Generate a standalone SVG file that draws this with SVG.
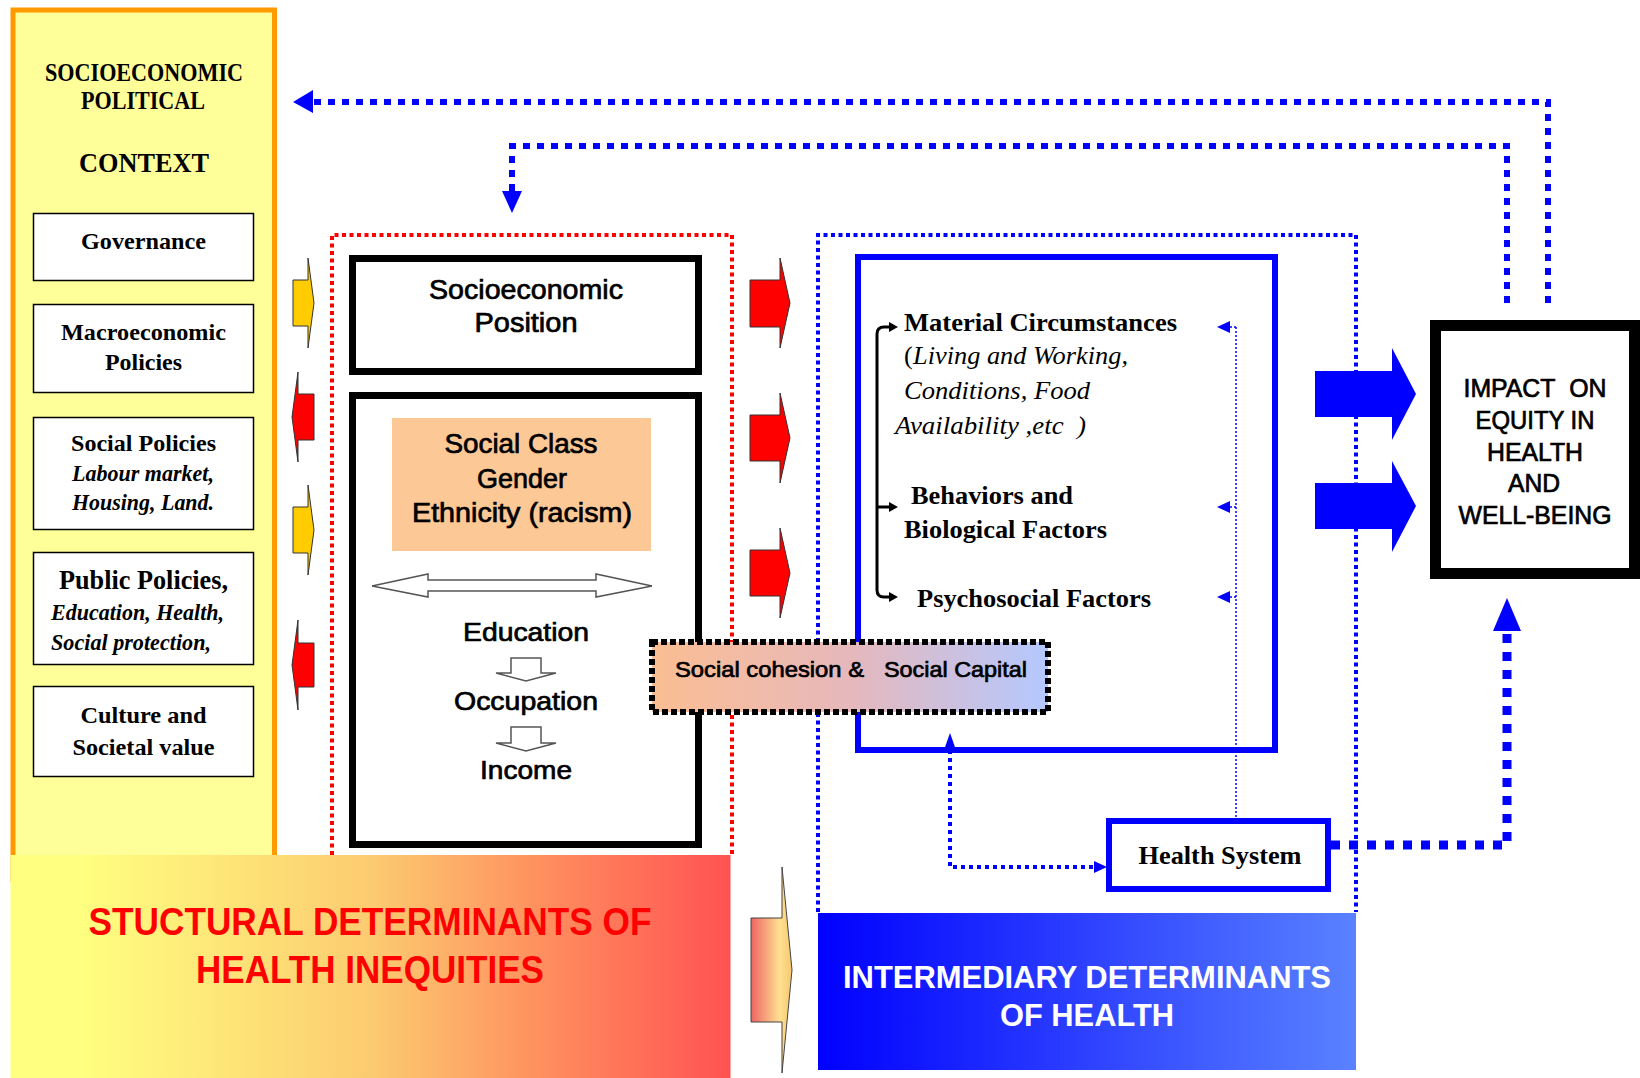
<svg xmlns="http://www.w3.org/2000/svg" width="1640" height="1078" viewBox="0 0 1640 1078">
<defs>
<linearGradient id="gStruct" x1="0" x2="1" y1="0" y2="0">
<stop offset="0" stop-color="#FFFF80"/>
<stop offset="0.1" stop-color="#FFFF80"/>
<stop offset="0.5" stop-color="#FCCB70"/>
<stop offset="0.75" stop-color="#FF8C5E"/>
<stop offset="1" stop-color="#FF5252"/>
</linearGradient>
<linearGradient id="gInter" x1="0" x2="1" y1="0" y2="0">
<stop offset="0" stop-color="#0000FF"/>
<stop offset="1" stop-color="#5A82FF"/>
</linearGradient>
<linearGradient id="gCoh" x1="0" x2="1" y1="0" y2="0">
<stop offset="0" stop-color="#FBBE92"/>
<stop offset="0.5" stop-color="#E6B8BC"/>
<stop offset="1" stop-color="#B4C8FF"/>
</linearGradient>
<linearGradient id="gArr" gradientUnits="userSpaceOnUse" x1="751" y1="0" x2="792" y2="0">
<stop offset="0" stop-color="#EE6464"/>
<stop offset="0.7" stop-color="#FFE090"/>
<stop offset="1" stop-color="#F5C870"/>
</linearGradient>
</defs>
<style>
.serif{font-family:'Liberation Serif','Times New Roman',serif}
.sans{font-family:'Liberation Sans',Arial,sans-serif}
.b{font-weight:bold}
.i{font-style:italic}
.c{text-anchor:middle}
.med{stroke:#000;stroke-width:0.7}
.box{fill:#fff;stroke:#000;stroke-width:1.5}
.thick{fill:#fff;stroke:#000;stroke-width:7}
.yel{fill:#FFCC00;stroke:#333;stroke-width:1}
.red{fill:#FF0000;stroke:#333;stroke-width:1}
.blu{fill:#0000FF}
.fb{fill:none;stroke:#0000FF;stroke-width:6;stroke-dasharray:7 7}
.hd{fill:#0000FF}
.wa{fill:#fff;stroke:#555;stroke-width:1.5}
</style>

<g id="context">
<rect x="13" y="10" width="261.5" height="870" fill="#FFFF99" stroke="#FF9900" stroke-width="5"/>
<text class="serif b c" x="144" y="81" font-size="26" textLength="198" lengthAdjust="spacingAndGlyphs">SOCIOECONOMIC</text>
<text class="serif b c" x="143" y="109" font-size="26" textLength="124" lengthAdjust="spacingAndGlyphs">POLITICAL</text>
<text class="serif b c" x="144" y="172" font-size="28" textLength="130" lengthAdjust="spacingAndGlyphs">CONTEXT</text>
</g>
<g id="governance">
<rect class="box" x="33.5" y="213.5" width="220" height="67"/>
<text class="serif b c" x="143.5" y="249" font-size="24" textLength="125" lengthAdjust="spacingAndGlyphs">Governance</text>
</g>
<g id="macro">
<rect class="box" x="33.5" y="304.5" width="220" height="88"/>
<text class="serif b c" x="143.5" y="340" font-size="24" textLength="165" lengthAdjust="spacingAndGlyphs">Macroeconomic</text>
<text class="serif b c" x="143.5" y="370" font-size="24" textLength="77" lengthAdjust="spacingAndGlyphs">Policies</text>
</g>
<g id="social-policies">
<rect class="box" x="33.5" y="417.5" width="220" height="112"/>
<text class="serif b c" x="143.5" y="451" font-size="24" textLength="145" lengthAdjust="spacingAndGlyphs">Social Policies</text>
<text class="serif b i c" x="143" y="481" font-size="24" textLength="142" lengthAdjust="spacingAndGlyphs">Labour market,</text>
<text class="serif b i c" x="143" y="510" font-size="24" textLength="142" lengthAdjust="spacingAndGlyphs">Housing, Land.</text>
</g>
<g id="public-policies">
<rect class="box" x="33.5" y="552.5" width="220" height="112"/>
<text class="serif b c" x="143.5" y="589" font-size="27" textLength="169" lengthAdjust="spacingAndGlyphs">Public Policies,</text>
<text class="serif b i" x="51" y="620" font-size="24" textLength="173" lengthAdjust="spacingAndGlyphs">Education, Health,</text>
<text class="serif b i" x="51" y="650" font-size="24" textLength="160" lengthAdjust="spacingAndGlyphs">Social protection,</text>
</g>
<g id="culture">
<rect class="box" x="33.5" y="686.5" width="220" height="90"/>
<text class="serif b c" x="143.5" y="723" font-size="24" textLength="126" lengthAdjust="spacingAndGlyphs">Culture and</text>
<text class="serif b c" x="143.5" y="755" font-size="24" textLength="142" lengthAdjust="spacingAndGlyphs">Societal value</text>
</g>

<g id="structural-frame">
<path d="M332,855 V235 H732 V855" fill="none" stroke="#FF0000" stroke-width="4" stroke-dasharray="4 3.5"/>
</g>
<g id="intermediary-frame">
<path d="M818,912 V235 H1356 V912" fill="none" stroke="#0000FF" stroke-width="4" stroke-dasharray="4 3.5"/>
</g>

<g id="structural-label">
<rect x="10.5" y="855" width="720" height="223" fill="url(#gStruct)"/>
<text class="sans b c" x="370" y="935" font-size="39" fill="#FF0000" textLength="563" lengthAdjust="spacingAndGlyphs">STUCTURAL DETERMINANTS OF</text>
<text class="sans b c" x="370" y="983" font-size="39" fill="#FF0000" textLength="348" lengthAdjust="spacingAndGlyphs">HEALTH INEQUITIES</text>
</g>
<g id="intermediary-label">
<rect x="818" y="913" width="538" height="157" fill="url(#gInter)"/>
<text class="sans b c" x="1087" y="988" font-size="32" fill="#fff" textLength="488" lengthAdjust="spacingAndGlyphs">INTERMEDIARY DETERMINANTS</text>
<text class="sans b c" x="1087" y="1026" font-size="32" fill="#fff" textLength="174" lengthAdjust="spacingAndGlyphs">OF HEALTH</text>
</g>

<g id="sep">
<rect class="thick" x="352.5" y="258.5" width="346" height="113"/>
<text class="sans c med" x="526" y="299" font-size="27" textLength="194" lengthAdjust="spacingAndGlyphs">Socioeconomic</text>
<text class="sans c med" x="526" y="332" font-size="27" textLength="103" lengthAdjust="spacingAndGlyphs">Position</text>
</g>
<g id="stratifiers">
<rect class="thick" x="352.5" y="395.5" width="346" height="449"/>
<rect x="392" y="418" width="259" height="133" fill="#FBC896"/>
<text class="sans c med" x="521" y="453" font-size="27" textLength="153" lengthAdjust="spacingAndGlyphs">Social Class</text>
<text class="sans c med" x="522" y="488" font-size="27" textLength="90" lengthAdjust="spacingAndGlyphs">Gender</text>
<text class="sans c med" x="522" y="522" font-size="27" textLength="220" lengthAdjust="spacingAndGlyphs">Ethnicity (racism)</text>
<polygon class="wa" points="372,586 428,574 428,580 596,580 596,574 652,586 596,597 596,591 428,591 428,597"/>
<text class="sans c med" x="526" y="641" font-size="26" textLength="126" lengthAdjust="spacingAndGlyphs">Education</text>
<polygon class="wa" points="511,658 541,658 541,673 556,673 526,681 496,673 511,673"/>
<text class="sans c med" x="526" y="710" font-size="26" textLength="144" lengthAdjust="spacingAndGlyphs">Occupation</text>
<polygon class="wa" points="511,727 541,727 541,743 556,743 526,751 496,743 511,743"/>
<text class="sans c med" x="526" y="779" font-size="26" textLength="92" lengthAdjust="spacingAndGlyphs">Income</text>
</g>

<g id="intermediary">
<rect x="858" y="257" width="417" height="493" fill="#fff" stroke="#0000FF" stroke-width="6"/>
<text class="serif b" x="904" y="331" font-size="26" textLength="273" lengthAdjust="spacingAndGlyphs">Material Circumstances</text>
<text class="serif" x="904" y="364" font-size="26">(</text>
<text class="serif i" x="913" y="364" font-size="26" textLength="215" lengthAdjust="spacingAndGlyphs">Living and Working,</text>
<text class="serif i" x="904" y="399" font-size="26" textLength="186" lengthAdjust="spacingAndGlyphs">Conditions, Food</text>
<text class="serif i" x="895" y="434" font-size="26" textLength="191" lengthAdjust="spacingAndGlyphs">Availability ,etc&#160;&#160;)</text>
<text class="serif b" x="911" y="504" font-size="26" textLength="162" lengthAdjust="spacingAndGlyphs">Behaviors and</text>
<text class="serif b" x="904" y="538" font-size="26" textLength="203" lengthAdjust="spacingAndGlyphs">Biological Factors</text>
<text class="serif b" x="917" y="607" font-size="26" textLength="234" lengthAdjust="spacingAndGlyphs">Psychosocial Factors</text>
</g>

<g id="health-system">
<rect x="1109" y="821" width="219" height="68" fill="#fff" stroke="#0000FF" stroke-width="6"/>
<text class="serif b c" x="1220" y="864" font-size="26" textLength="163" lengthAdjust="spacingAndGlyphs">Health System</text>
</g>

<g id="cohesion">
<rect x="652" y="642" width="396" height="70" fill="url(#gCoh)" stroke="#000" stroke-width="6" stroke-dasharray="6 3"/>
<text class="sans med" x="675" y="677" font-size="22" textLength="189" lengthAdjust="spacingAndGlyphs">Social cohesion &amp;</text>
<text class="sans med" x="884" y="677" font-size="22" textLength="143" lengthAdjust="spacingAndGlyphs">Social Capital</text>
</g>

<g id="impact">
<rect x="1435.5" y="325.5" width="199" height="248" fill="#fff" stroke="#000" stroke-width="11"/>
<text class="sans c med" x="1535" y="397" font-size="25" textLength="143" lengthAdjust="spacingAndGlyphs">IMPACT&#160;&#160;ON</text>
<text class="sans c med" x="1535" y="429" font-size="25" textLength="119" lengthAdjust="spacingAndGlyphs">EQUITY IN</text>
<text class="sans c med" x="1535" y="461" font-size="25" textLength="96" lengthAdjust="spacingAndGlyphs">HEALTH</text>
<text class="sans c med" x="1534" y="492" font-size="25" textLength="52" lengthAdjust="spacingAndGlyphs">AND</text>
<text class="sans c med" x="1535" y="524" font-size="25" textLength="153" lengthAdjust="spacingAndGlyphs">WELL-BEING</text>
</g>

<g id="connectors">
<path class="fb" d="M1548,303 V102 H313"/>
<polygon class="hd" points="293,102 313,90 313,113"/>
<path class="fb" d="M1507,303 V146 H512 V192"/>
<polygon class="hd" points="512,213 502,191 522,191"/>
<path d="M1331,845 H1507 V631" fill="none" stroke="#0000FF" stroke-width="9" stroke-dasharray="9 9"/>
<polygon class="hd" points="1507,598 1521,631 1493,631"/>
<path d="M950,750 V867 H1095" fill="none" stroke="#0000FF" stroke-width="4" stroke-dasharray="4 4"/>
<polygon class="hd" points="950,733 956,750 944,750"/>
<polygon class="hd" points="1107,867 1094,861 1094,873"/>
<path d="M1236,327 V818 M1230,327 H1236 M1230,507 H1236 M1230,597 H1236" fill="none" stroke="#0000FF" stroke-width="1.5" stroke-dasharray="2 2"/>
<polygon class="hd" points="1217,327 1230,321 1230,333"/>
<polygon class="hd" points="1217,507 1230,501 1230,513"/>
<polygon class="hd" points="1217,597 1230,591 1230,603"/>
<path d="M890,327 H884 Q877,327 877,334 V590 Q877,597 884,597 H890 M877,507 H890" fill="none" stroke="#000" stroke-width="3"/>
<polygon points="898,327 889,322 889,332"/>
<polygon points="898,507 889,502 889,512"/>
<polygon points="898,597 889,592 889,602"/>
<polygon class="yel" points="293,280 308,280 308,258 314,303 308,348 308,326 293,326"/>
<polygon class="red" points="314,394 298,394 298,372 292,417 298,462 298,440 314,440"/>
<polygon class="yel" points="293,507 308,507 308,485 314,530 308,575 308,553 293,553"/>
<polygon class="red" points="314,643 298,643 298,620 292,665 298,710 298,687 314,687"/>
<polygon class="red" points="750,280 780,280 780,258 790,303 780,348 780,327 750,327"/>
<polygon class="red" points="750,415 780,415 780,393 790,438 780,483 780,461 750,461"/>
<polygon class="red" points="750,550 780,550 780,528 790,573 780,618 780,596 750,596"/>
<polygon fill="url(#gArr)" stroke="#444" stroke-width="1" points="751,918 782,918 782,867 792,970 782,1073 782,1022 751,1022"/>
<polygon class="blu" points="1315,371 1392,371 1392,348 1416,394 1392,440 1392,417 1315,417"/>
<polygon class="blu" points="1315,483 1392,483 1392,461 1416,506 1392,552 1392,529 1315,529"/>
</g>
</svg>
